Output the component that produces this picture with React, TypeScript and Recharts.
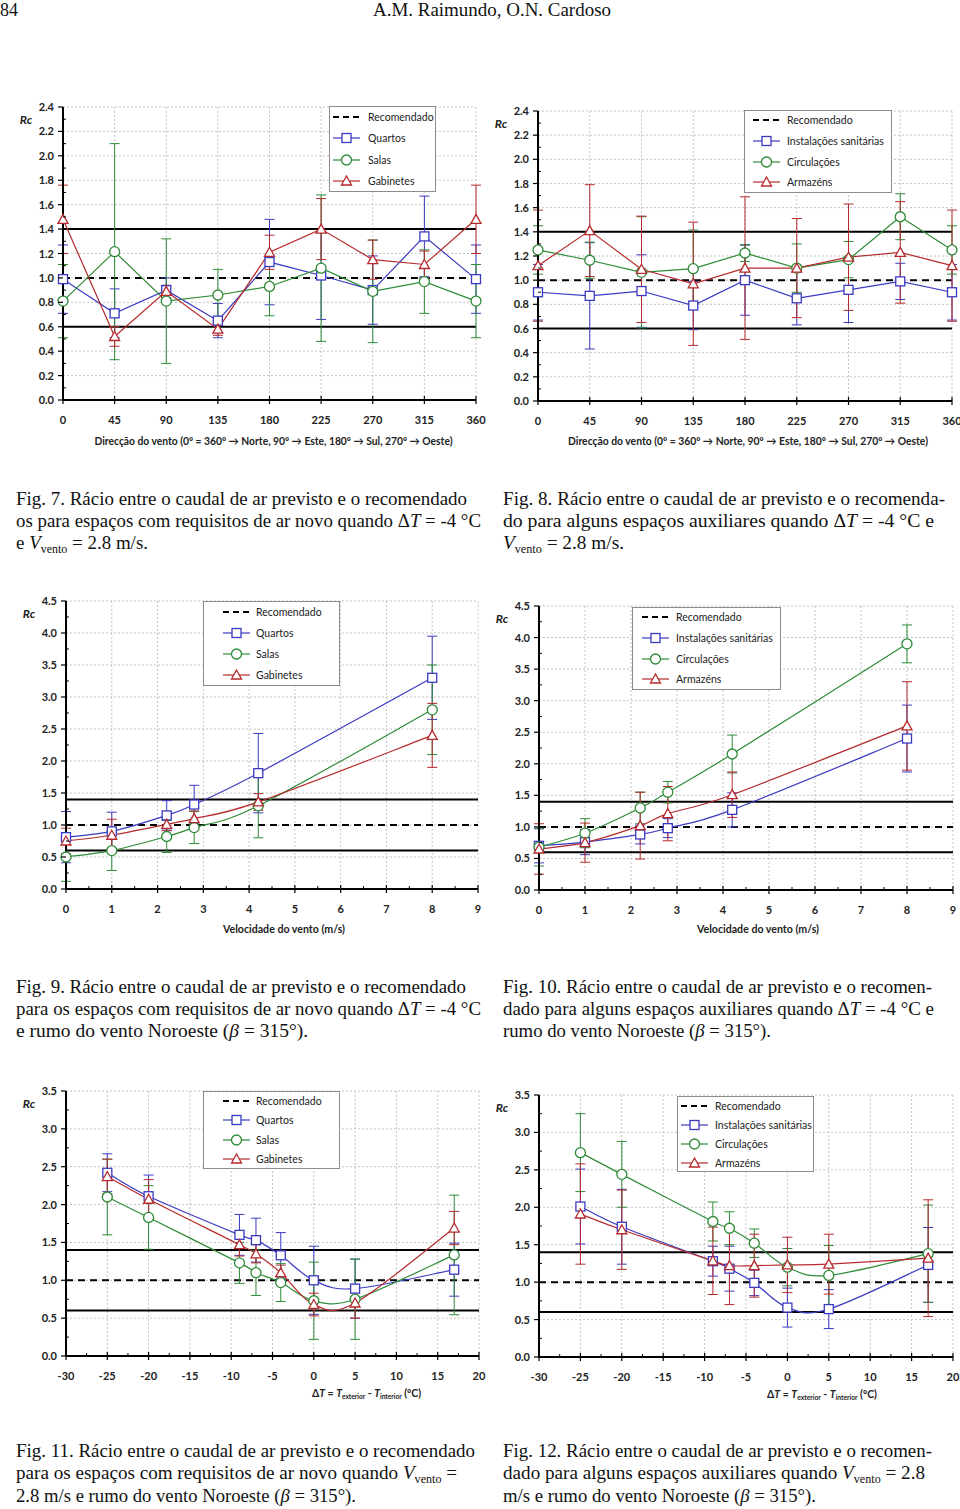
import React from 'react';
import { LineChart, Line, XAxis, YAxis, CartesianGrid, ReferenceLine, ErrorBar, Legend } from 'recharts';

const BLUE = '#3a3ac2';
const GREEN = '#2e8b37';
const RED = '#b52a2d';
const AXIS_FONT = 'Lato, "Open Sans", sans-serif';
const SERIF = '"Liberation Serif", "Times New Roman", serif';

// Fig. 7 / 8: wind direction (deg)
const directions = [0, 45, 90, 135, 180, 225, 270, 315, 360];
const quartosDir = [0.99, 0.71, 0.9, 0.65, 1.13, 1.02, 0.9, 1.34, 0.99];
const quartosDirErr = [0.28, 0.2, 0.1, 0.14, 0.35, 0.36, 0.28, 0.33, 0.28];
const salasDir = [0.81, 1.215, 0.81, 0.86, 0.93, 1.08, 0.89, 0.97, 0.81];
const salasDirErr = [0.3, 0.885, 0.51, 0.21, 0.24, 0.6, 0.42, 0.26, 0.3];
const gabinetesDir = [1.48, 0.52, 0.89, 0.58, 1.21, 1.4, 1.15, 1.11, 1.48];
const gabinetesDirErr = [0.28, 0.08, 0.05, 0.05, 0.14, 0.25, 0.16, 0.11, 0.28];
const instalacoesDir = [0.9, 0.87, 0.91, 0.79, 1.0, 0.85, 0.92, 0.99, 0.9];
const instalacoesDirErr = [0.23, 0.44, 0.3, 0.2, 0.29, 0.22, 0.27, 0.15, 0.23];
const circulacoesDir = [1.25, 1.165, 1.065, 1.095, 1.225, 1.1, 1.17, 1.525, 1.25];
const circulacoesDirErr = [0.2, 0.15, 0.46, 0.32, 0.07, 0.2, 0.15, 0.19, 0.2];
const armazensDir = [1.12, 1.41, 1.09, 0.97, 1.1, 1.1, 1.19, 1.23, 1.12];
const armazensDirErr = [0.46, 0.38, 0.44, 0.51, 0.59, 0.41, 0.44, 0.42, 0.46];

// Fig. 9 / 10: wind speed (m/s)
const speeds = [0, 1, 2.2, 2.8, 4.2, 8];
const quartosVel = [0.81, 0.9, 1.15, 1.32, 1.81, 3.3];
const quartosVelErr = [0.4, 0.3, 0.23, 0.3, 0.62, 0.65];
const salasVel = [0.5, 0.6, 0.82, 0.96, 1.3, 2.8];
const salasVelErr = [0.38, 0.31, 0.25, 0.25, 0.5, 0.7];
const gabinetesVel = [0.75, 0.84, 1.01, 1.1, 1.36, 2.4];
const gabinetesVelErr = [0.2, 0.25, 0.1, 0.12, 0.13, 0.5];
const instalacoesVel = [0.7, 0.76, 0.88, 0.98, 1.27, 2.4];
const instalacoesVelErr = [0.27, 0.2, 0.15, 0.15, 0.27, 0.53];
const circulacoesVel = [0.68, 0.9, 1.3, 1.55, 2.155, 3.9];
const circulacoesVelErr = [0.3, 0.23, 0.25, 0.17, 0.3, 0.3];
const armazensVel = [0.65, 0.75, 1.02, 1.21, 1.51, 2.6];
const armazensVelErr = [0.4, 0.31, 0.53, 0.43, 0.36, 0.7];

// Fig. 11 / 12: temperature difference (ºC)
const deltaT = [-25, -20, -9, -7, -4, 0, 5, 17];
const quartosDT = [2.42, 2.11, 1.6, 1.53, 1.33, 1.0, 0.89, 1.14];
const quartosDTErr = [0.25, 0.28, 0.27, 0.29, 0.3, 0.45, 0.39, 0.35];
const salasDT = [2.1, 1.83, 1.23, 1.1, 0.97, 0.73, 0.75, 1.335];
const salasDTErr = [0.5, 0.42, 0.27, 0.3, 0.25, 0.51, 0.53, 0.79];
const gabinetesDT = [2.37, 2.07, 1.47, 1.35, 1.1, 0.68, 0.7, 1.69];
const gabinetesDTErr = [0.23, 0.26, 0.15, 0.12, 0.1, 0.15, 0.2, 0.22];
const instalacoesDT = [2.01, 1.74, 1.28, 1.18, 0.99, 0.66, 0.64, 1.23];
const instalacoesDTErr = [0.5, 0.5, 0.2, 0.3, 0.17, 0.26, 0.26, 0.5];
const circulacoesDT = [2.73, 2.44, 1.81, 1.72, 1.52, 1.2, 1.09, 1.38];
const circulacoesDTErr = [0.52, 0.44, 0.26, 0.22, 0.19, 0.25, 0.4, 0.65];
const armazensDT = [1.91, 1.7, 1.285, 1.22, 1.22, 1.23, 1.24, 1.32];
const armazensDTErr = [0.67, 0.53, 0.45, 0.52, 0.42, 0.37, 0.4, 0.78];

// ticks
const dirTicks = [0, 45, 90, 135, 180, 225, 270, 315, 360];
const speedTicks = [0, 1, 2, 3, 4, 5, 6, 7, 8, 9];
const speedMinor = [0.5, 1.5, 2.5, 3.5, 4.5, 5.5, 6.5, 7.5, 8.5];
const dtTicks = [-30, -25, -20, -15, -10, -5, 0, 5, 10, 15, 20];
const dtMinor = [-27.5, -22.5, -17.5, -12.5, -7.5, -2.5, 2.5, 7.5, 12.5, 17.5];
const rcTicks24 = [0, 0.2, 0.4, 0.6, 0.8, 1.0, 1.2, 1.4, 1.6, 1.8, 2.0, 2.2, 2.4];
const rcMinor24 = [0.1, 0.3, 0.5, 0.7, 0.9, 1.1, 1.3, 1.5, 1.7, 1.9, 2.1, 2.3];
const rcTicks45 = [0, 0.5, 1.0, 1.5, 2.0, 2.5, 3.0, 3.5, 4.0, 4.5];
const rcMinor45 = [0.25, 0.75, 1.25, 1.75, 2.25, 2.75, 3.25, 3.75, 4.25];
const rcTicks35 = [0, 0.5, 1.0, 1.5, 2.0, 2.5, 3.0, 3.5];
const rcMinor35 = [0.25, 0.75, 1.25, 1.75, 2.25, 2.75, 3.25];

const recommended = 1.0;
const limitHigh = 1.4;
const limitLow = 0.6;

const freshAirNames = ['Quartos', 'Salas', 'Gabinetes'];
const auxNames = ['Instalações sanitárias', 'Circulações', 'Armazéns'];
const seriesColors = [BLUE, GREEN, RED];
const seriesShapes = ['square', 'circle', 'triangle'];

function makeRows(xs: number[], vals: number[][], errs: number[][]) {
  return xs.map((x, i) => {
    const r: any = { x };
    vals.forEach((v, k) => {
      r[`s${k}`] = v[i];
      r[`e${k}`] = errs[k][i];
    });
    return r;
  });
}

// smoothed line like the spreadsheet one (Catmull-Rom through the points)
function excelSmooth(context: any) {
  let pts: number[][] = [];
  return {
    areaStart() {},
    areaEnd() {},
    lineStart() { pts = []; },
    point(x: number, y: number) { pts.push([+x, +y]); },
    lineEnd() {
      if (!pts.length) return;
      context.moveTo(pts[0][0], pts[0][1]);
      for (let i = 0; i < pts.length - 1; i++) {
        const p0 = pts[i - 1] || pts[i];
        const p1 = pts[i];
        const p2 = pts[i + 1];
        const p3 = pts[i + 2] || p2;
        context.bezierCurveTo(
          p1[0] + (p2[0] - p0[0]) / 6, p1[1] + (p2[1] - p0[1]) / 6,
          p2[0] - (p3[0] - p1[0]) / 6, p2[1] - (p3[1] - p1[1]) / 6,
          p2[0], p2[1],
        );
      }
    },
  };
}

function Marker({ cx, cy, shape, color }: any) {
  if (cx == null || cy == null) return null;
  const st = { fill: '#fff', stroke: color, strokeWidth: 1.3 };
  if (shape === 'square') return <rect x={cx - 4.5} y={cy - 4.5} width={9} height={9} {...st} />;
  if (shape === 'circle') return <circle cx={cx} cy={cy} r={5} {...st} />;
  return <polygon points={`${cx},${cy - 5} ${cx - 5},${cy + 4} ${cx + 5},${cy + 4}`} {...st} />;
}

const isIn = (arr: number[], v: number) => arr.some((m) => Math.abs(m - v) < 1e-9);

function YTick({ x, y, payload, majors }: any) {
  const v = payload.value;
  if (!isIn(majors, v)) return <line x1={x} x2={x + 3} y1={y} y2={y} stroke="#000" strokeWidth={1} />;
  return (
    <g>
      <line x1={x - 5} x2={x} y1={y} y2={y} stroke="#000" strokeWidth={1.2} />
      <text x={x - 9} y={y + 4} textAnchor="end" fontFamily={AXIS_FONT} fontWeight={700} fontSize={11} fill="#222">
        {Number(v).toFixed(1)}
      </text>
    </g>
  );
}

function XTick({ x, y, payload, majors }: any) {
  const v = payload.value;
  if (!isIn(majors, v)) return <line x1={x} x2={x} y1={y - 3} y2={y} stroke="#000" strokeWidth={1} />;
  return (
    <g>
      <line x1={x} x2={x} y1={y - 4} y2={y + 4} stroke="#000" strokeWidth={1.2} />
      <text x={x} y={y + 24} textAnchor="middle" fontFamily={AXIS_FONT} fontWeight={700} fontSize={11} fill="#222">
        {String(v)}
      </text>
    </g>
  );
}

function LegendBox({ names, lg }: any) {
  const items = [{ name: 'Recomendado', k: -1 }, ...names.map((n: string, k: number) => ({ name: n, k }))];
  return (
    <div style={{ position: 'relative', width: lg.w, height: lg.h, boxSizing: 'border-box', background: '#fff', border: '1px solid #8c8c8c' }}>
      {items.map((it: any, i: number) => (
        <div key={it.name} style={{ position: 'absolute', left: 0, top: i * lg.rowH - 1, height: lg.rowH, width: lg.w, display: 'flex', alignItems: 'center' }}>
          <svg width={28} height={12} style={{ position: 'absolute', left: lg.symX - 1 }}>
            {it.k < 0 ? (
              <line x1={0} x2={27} y1={6} y2={6} stroke="#000" strokeWidth={2} strokeDasharray="6 4" />
            ) : (
              <g>
                <line x1={0} x2={27} y1={6} y2={6} stroke={seriesColors[it.k]} strokeWidth={1.2} />
                <Marker cx={13.5} cy={6} shape={seriesShapes[it.k]} color={seriesColors[it.k]} />
              </g>
            )}
          </svg>
          <span style={{ position: 'absolute', left: lg.textX - 1, fontFamily: AXIS_FONT, fontSize: 10.5, color: '#222', whiteSpace: 'nowrap' }}>
            {it.name}
          </span>
        </div>
      ))}
    </div>
  );
}

const dirTitle = 'Direcção do vento (0º = 360º → Norte, 90º → Este, 180º → Sul, 270º → Oeste)';
const speedTitle = 'Velocidade do vento (m/s)';

function DeltaTitle() {
  return (
    <>
      <tspan>Δ</tspan>
      <tspan fontStyle="italic">T</tspan>
      <tspan> = </tspan>
      <tspan fontStyle="italic">T</tspan>
      <tspan fontSize={7} dy={2}>exterior</tspan>
      <tspan dy={-2}> - </tspan>
      <tspan fontStyle="italic">T</tspan>
      <tspan fontSize={7} dy={2}>interior</tspan>
      <tspan dy={-2}> (ºC)</tspan>
    </>
  );
}

function Panel(p: any) {
  const padR = p.padR ?? 16;
  const width = p.plotW + 60 + padR;
  const height = p.plotH + 16 + 52;
  const xDomain = [p.xTicks[0], p.xTicks[p.xTicks.length - 1]];
  const yDomain = [p.yTicks[0], p.yTicks[p.yTicks.length - 1]];
  return (
    <div style={{ position: 'absolute', left: p.plotX - 60, top: p.plotY - 16, width, height }}>
      <LineChart width={width} height={height} data={p.rows} margin={{ top: 16, right: padR, bottom: 0, left: 0 }}>
        <CartesianGrid stroke="#c4c4c4" strokeDasharray="2 2" horizontalValues={p.yTicks} verticalValues={p.xTicks} />
        <XAxis
          type="number"
          dataKey="x"
          domain={xDomain}
          ticks={[...p.xTicks, ...p.xMinor]}
          interval={0}
          tickSize={0}
          tickMargin={0}
          tickLine={false}
          axisLine={{ stroke: '#000', strokeWidth: 2 }}
          height={52}
          tick={(t: any) => <XTick {...t} majors={p.xTicks} />}
          label={() => (
            <text
              x={60 + p.plotW / 2 + p.titleDx}
              y={16 + p.plotH + p.titleDy}
              textAnchor="middle"
              fontFamily={AXIS_FONT}
              fontWeight={700}
              fontSize={11}
              fill="#222"
              textLength={p.titleW}
              lengthAdjust="spacingAndGlyphs"
              style={{ whiteSpace: 'pre' }}
            >
              {p.title}
            </text>
          )}
        />
        <YAxis
          type="number"
          domain={yDomain}
          ticks={[...p.yTicks, ...p.yMinor]}
          interval={0}
          tickSize={0}
          tickMargin={0}
          tickLine={false}
          axisLine={{ stroke: '#000', strokeWidth: 2 }}
          width={60}
          tick={(t: any) => <YTick {...t} majors={p.yTicks} />}
          label={() => (
            <text x={60 - 37} y={16 + 17} textAnchor="middle" fontFamily={AXIS_FONT} fontWeight={700} fontStyle="italic" fontSize={12} fill="#222">
              Rc
            </text>
          )}
        />
        <ReferenceLine y={limitHigh} stroke="#000" strokeWidth={2} />
        <ReferenceLine y={limitLow} stroke="#000" strokeWidth={2} />
        <ReferenceLine y={recommended} stroke="#000" strokeWidth={2} strokeDasharray="7 5" />
        {p.names.map((name: string, k: number) => (
          <Line
            key={name}
            dataKey={`s${k}`}
            name={name}
            type={p.smooth ? (excelSmooth as any) : 'linear'}
            stroke={seriesColors[k]}
            strokeWidth={1.2}
            isAnimationActive={false}
            activeDot={false}
            dot={(d: any) => <Marker key={`${k}-${d.index}`} cx={d.cx} cy={d.cy} shape={seriesShapes[k]} color={seriesColors[k]} />}
          >
            <ErrorBar dataKey={`e${k}`} width={5} stroke={seriesColors[k]} strokeWidth={1} direction="y" isAnimationActive={false} />
          </Line>
        ))}
        <Legend
          layout="vertical"
          align="center"
          verticalAlign="middle"
          wrapperStyle={{ left: 60 + p.legend.dx, top: 16 + p.legend.dy, width: p.legend.w, height: p.legend.h }}
          content={() => <LegendBox names={p.names} lg={p.legend} />}
        />
      </LineChart>
    </div>
  );
}

type Seg = { t: string; i?: boolean; sub?: boolean };
const T = (t: string): Seg => ({ t });
const I = (t: string): Seg => ({ t, i: true });
const S = (t: string): Seg => ({ t, sub: true });

const headerLines = [
  { x: 0, y: 16, w: 18, segs: [T('84')] },
  { x: 373, y: 16, w: 238, segs: [T('A.M. Raimundo, O.N. Cardoso')] },
];

const captionLines = [
  { x: 16, y: 505, w: 451, segs: [T('Fig. 7. Rácio entre o caudal de ar previsto e o recomendado')] },
  { x: 16, y: 527, w: 465, segs: [T('os para espaços com requisitos de ar novo quando Δ'), I('T'), T(' = -4 °C')] },
  { x: 16, y: 549, w: 132, segs: [T('e '), I('V'), S('vento'), T(' = 2.8 m/s.')] },
  { x: 503, y: 505, w: 442, segs: [T('Fig. 8. Rácio entre o caudal de ar previsto e o recomenda-')] },
  { x: 503, y: 527, w: 431, segs: [T('do para alguns espaços auxiliares quando Δ'), I('T'), T(' = -4 °C e')] },
  { x: 503, y: 549, w: 121, segs: [I('V'), S('vento'), T(' = 2.8 m/s.')] },
  { x: 16, y: 993, w: 450, segs: [T('Fig. 9. Rácio entre o caudal de ar previsto e o recomendado')] },
  { x: 16, y: 1015, w: 465, segs: [T('para os espaços com requisitos de ar novo quando Δ'), I('T'), T(' = -4 °C')] },
  { x: 16, y: 1037, w: 292, segs: [T('e rumo do vento Noroeste ('), I('β'), T(' = 315°).')] },
  { x: 503, y: 993, w: 429, segs: [T('Fig. 10. Rácio entre o caudal de ar previsto e o recomen-')] },
  { x: 503, y: 1015, w: 431, segs: [T('dado para alguns espaços auxiliares quando Δ'), I('T'), T(' = -4 °C e')] },
  { x: 503, y: 1037, w: 268, segs: [T('rumo do vento Noroeste ('), I('β'), T(' = 315°).')] },
  { x: 16, y: 1457, w: 459, segs: [T('Fig. 11. Rácio entre o caudal de ar previsto e o recomendado')] },
  { x: 16, y: 1479, w: 441, segs: [T('para os espaços com requisitos de ar novo quando '), I('V'), S('vento'), T(' =')] },
  { x: 16, y: 1502, w: 340, segs: [T('2.8 m/s e rumo do vento Noroeste ('), I('β'), T(' = 315°).')] },
  { x: 503, y: 1457, w: 429, segs: [T('Fig. 12. Rácio entre o caudal de ar previsto e o recomen-')] },
  { x: 503, y: 1479, w: 422, segs: [T('dado para alguns espaços auxiliares quando '), I('V'), S('vento'), T(' = 2.8')] },
  { x: 503, y: 1502, w: 313, segs: [T('m/s e rumo do vento Noroeste ('), I('β'), T(' = 315°).')] },
];

function TextLine({ line }: any) {
  let shifted = false;
  return (
    <text x={line.x} y={line.y} textLength={line.w} lengthAdjust="spacingAndGlyphs" fontFamily={SERIF} fontSize={19} fill="#111" style={{ whiteSpace: 'pre' }}>
      {line.segs.map((s: Seg, k: number) => {
        if (s.sub) {
          shifted = true;
          return <tspan key={k} dy={4} fontSize={12}>{s.t}</tspan>;
        }
        const dy = shifted ? -4 : undefined;
        shifted = false;
        return <tspan key={k} dy={dy} fontStyle={s.i ? 'italic' : undefined}>{s.t}</tspan>;
      })}
    </text>
  );
}

const rows7 = makeRows(directions, [quartosDir, salasDir, gabinetesDir], [quartosDirErr, salasDirErr, gabinetesDirErr]);
const rows8 = makeRows(directions, [instalacoesDir, circulacoesDir, armazensDir], [instalacoesDirErr, circulacoesDirErr, armazensDirErr]);
const rows9 = makeRows(speeds, [quartosVel, salasVel, gabinetesVel], [quartosVelErr, salasVelErr, gabinetesVelErr]);
const rows10 = makeRows(speeds, [instalacoesVel, circulacoesVel, armazensVel], [instalacoesVelErr, circulacoesVelErr, armazensVelErr]);
const rows11 = makeRows(deltaT, [quartosDT, salasDT, gabinetesDT], [quartosDTErr, salasDTErr, gabinetesDTErr]);
const rows12 = makeRows(deltaT, [instalacoesDT, circulacoesDT, armazensDT], [instalacoesDTErr, circulacoesDTErr, armazensDTErr]);

export default function App() {
  return (
    <div style={{ position: 'absolute', left: 0, top: 0, width: 960, height: 1509, overflow: 'hidden', background: '#fff' }}>
      <svg width={960} height={1509} style={{ position: 'absolute', left: 0, top: 0 }}>
        {[...headerLines, ...captionLines].map((l, i) => (
          <TextLine key={i} line={l} />
        ))}
      </svg>

      <Panel plotX={63} plotY={107} plotW={413} plotH={293} rows={rows7} names={freshAirNames}
        xTicks={dirTicks} xMinor={[]} yTicks={rcTicks24} yMinor={rcMinor24} smooth={false}
        title={dirTitle} titleW={358} titleDx={4} titleDy={45}
        legend={{ dx: 266, dy: -1, w: 107, h: 86, symX: 4, textX: 39, rowH: 21.5 }} />
      <Panel plotX={538} plotY={111} plotW={414} plotH={290} padR={14} rows={rows8} names={auxNames}
        xTicks={dirTicks} xMinor={[]} yTicks={rcTicks24} yMinor={rcMinor24} smooth={false}
        title={dirTitle} titleW={360} titleDx={3} titleDy={44}
        legend={{ dx: 206, dy: -1, w: 148, h: 83, symX: 9, textX: 43, rowH: 20.7 }} />

      <Panel plotX={66} plotY={601} plotW={412} plotH={288} rows={rows9} names={freshAirNames}
        xTicks={speedTicks} xMinor={speedMinor} yTicks={rcTicks45} yMinor={rcMinor45} smooth
        title={speedTitle} titleW={122} titleDx={12} titleDy={44}
        legend={{ dx: 137, dy: 0, w: 137, h: 85, symX: 20, textX: 53, rowH: 21 }} />
      <Panel plotX={539} plotY={606} plotW={414} plotH={284} padR={14} rows={rows10} names={auxNames}
        xTicks={speedTicks} xMinor={speedMinor} yTicks={rcTicks45} yMinor={rcMinor45} smooth
        title={speedTitle} titleW={122} titleDx={12} titleDy={43}
        legend={{ dx: 93, dy: 1, w: 149, h: 83, symX: 10, textX: 44, rowH: 20.7 }} />

      <Panel plotX={66} plotY={1091} plotW={413} plotH={265} rows={rows11} names={freshAirNames}
        xTicks={dtTicks} xMinor={dtMinor} yTicks={rcTicks35} yMinor={rcMinor35} smooth
        title={<DeltaTitle />} titleW={109} titleDx={94} titleDy={41}
        legend={{ dx: 137, dy: 0, w: 137, h: 78, symX: 20, textX: 53, rowH: 19.5 }} />
      <Panel plotX={539} plotY={1095} plotW={414} plotH={262} padR={14} rows={rows12} names={auxNames}
        xTicks={dtTicks} xMinor={dtMinor} yTicks={rcTicks35} yMinor={rcMinor35} smooth
        title={<DeltaTitle />} titleW={110} titleDx={76} titleDy={41}
        legend={{ dx: 138, dy: 1, w: 137, h: 76, symX: 4, textX: 38, rowH: 19 }} />
    </div>
  );
}
